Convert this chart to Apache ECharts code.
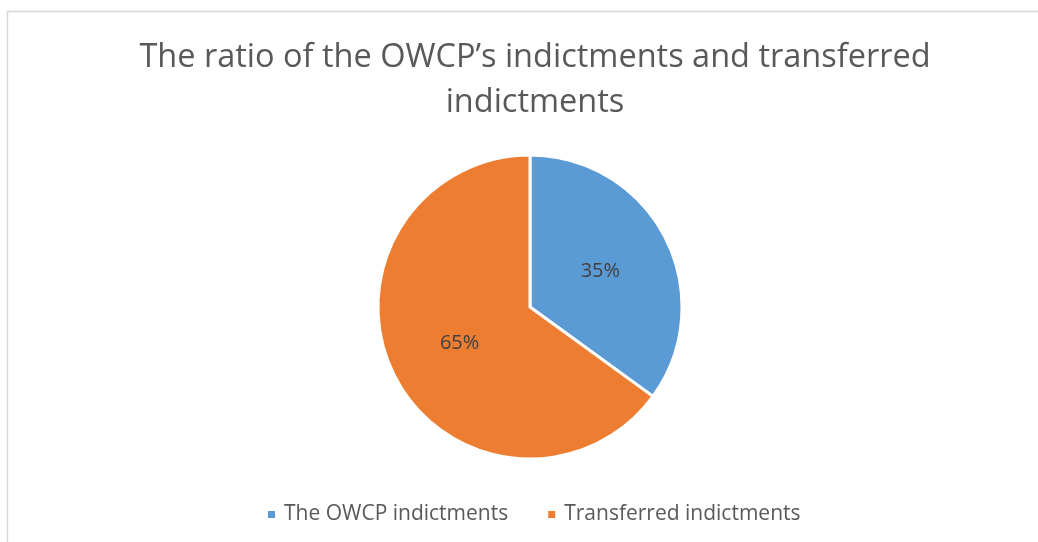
<!DOCTYPE html>
<html>
<head>
<meta charset="utf-8">
<script src="https://cdn.jsdelivr.net/npm/echarts@6/dist/echarts.min.js"></script>
<style>
html, body { margin: 0; padding: 0; background: #fff; }
#chart { width: 1038px; height: 542px; }
</style>
</head>
<body>
<div id="chart"></div>
<script>
var dom = document.getElementById("chart");
var myChart = echarts.init(dom);

// data
var categories = ['The OWCP indictments', 'Transferred indictments'];
var shares = [35, 65];
var colors = ['#5B9BD5', '#ED7D31'];

var pieData = [];
for (var i = 0; i < categories.length; i++) {
	pieData.push({ name: categories[i], value: shares[i], itemStyle: { color: colors[i] } });
}

var option = {
	textStyle: { fontFamily: 'Open Sans' },
	graphic: [{
		type: 'rect',
		shape: { x: 7.5, y: 11.5, width: 1200, height: 700 },
		style: { fill: 'none', stroke: '#d9d9d9', lineWidth: 1.5 },
		silent: true
	}],
	title: {
		text: 'The ratio of the OWCP\u2019s indictments and transferred\nindictments',
		left: 530,
		top: 30,
		textAlign: 'center',
		textStyle: {
			fontFamily: 'Open Sans',
			fontSize: 32.5,
			fontWeight: 'normal',
			color: '#595959',
			lineHeight: 45
		}
	},
	legend: {
		data: categories,
		bottom: 12,
		left: 261,
		icon: 'rect',
		itemWidth: 9,
		itemHeight: 9,
		itemGap: 38,
		textStyle: { fontFamily: 'Open Sans', fontSize: 21, color: '#595959', padding: [0, 0, 0, 3] }
	},
	series: [{
		type: 'pie',
		center: [530, 307],
		radius: 152,
		startAngle: 90,
		clockwise: true,
		data: pieData,
		itemStyle: { borderColor: '#fff', borderWidth: 3 },
		label: {
			position: 'inside',
			formatter: '{d}%',
			fontFamily: 'Open Sans',
			fontSize: 20,
			color: '#404040'
		},
		labelLine: { show: false },
		emphasis: { scale: false }
	}]
};

myChart.setOption(option);
</script>
</body>
</html>
